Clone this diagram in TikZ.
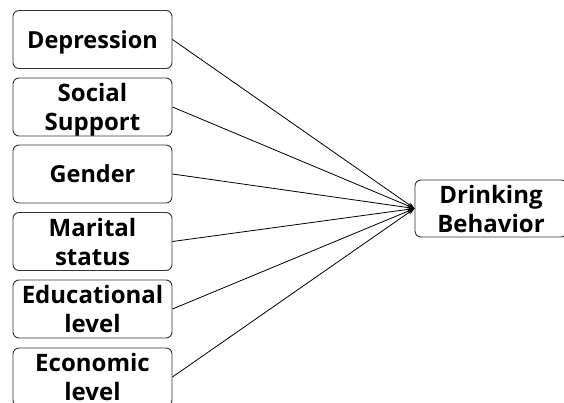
\documentclass[tikz,border=0pt]{standalone}
\usepackage{fontspec}
\setmainfont{Open Sans}
\usetikzlibrary{arrows.meta}
\begin{document}
\begin{tikzpicture}[x=1pt,y=-1pt,
  box/.style={draw=black!80, line width=0.9pt, rounded corners=6pt, align=center,
    inner sep=0pt, text depth=0pt, font=\bfseries\fontsize{23.5}{24}\selectfont},
  two/.style={font=\bfseries\fontsize{24}{29}\selectfont},
  lbox/.style={box, minimum width=159pt, minimum height=58pt},
  link/.style={line width=0.8pt, -{Stealth[length=7pt,width=5pt]}}]
\useasboundingbox (0,0) rectangle (564,403);
\node[lbox] (dep) at (92.5,39.5) {Depression};
\node[lbox, two] (soc) at (92.5,107) {Social\\Support};
\node[lbox] (gen) at (92.5,174) {Gender};
\node[lbox, two] (mar) at (92.5,241.5) {Marital\\status};
\node[lbox, two] (edu) at (92.5,309) {Educational\\level};
\node[lbox, two] (eco) at (92.5,377) {Economic\\level};
\node[box, two, minimum width=152pt, minimum height=57pt] (beh) at (491,208.5) {Drinking\\Behavior};
\foreach \n in {dep,soc,gen,mar,edu,eco}
  \draw[link] (\n.east) -- (beh.west);
\end{tikzpicture}
\end{document}
